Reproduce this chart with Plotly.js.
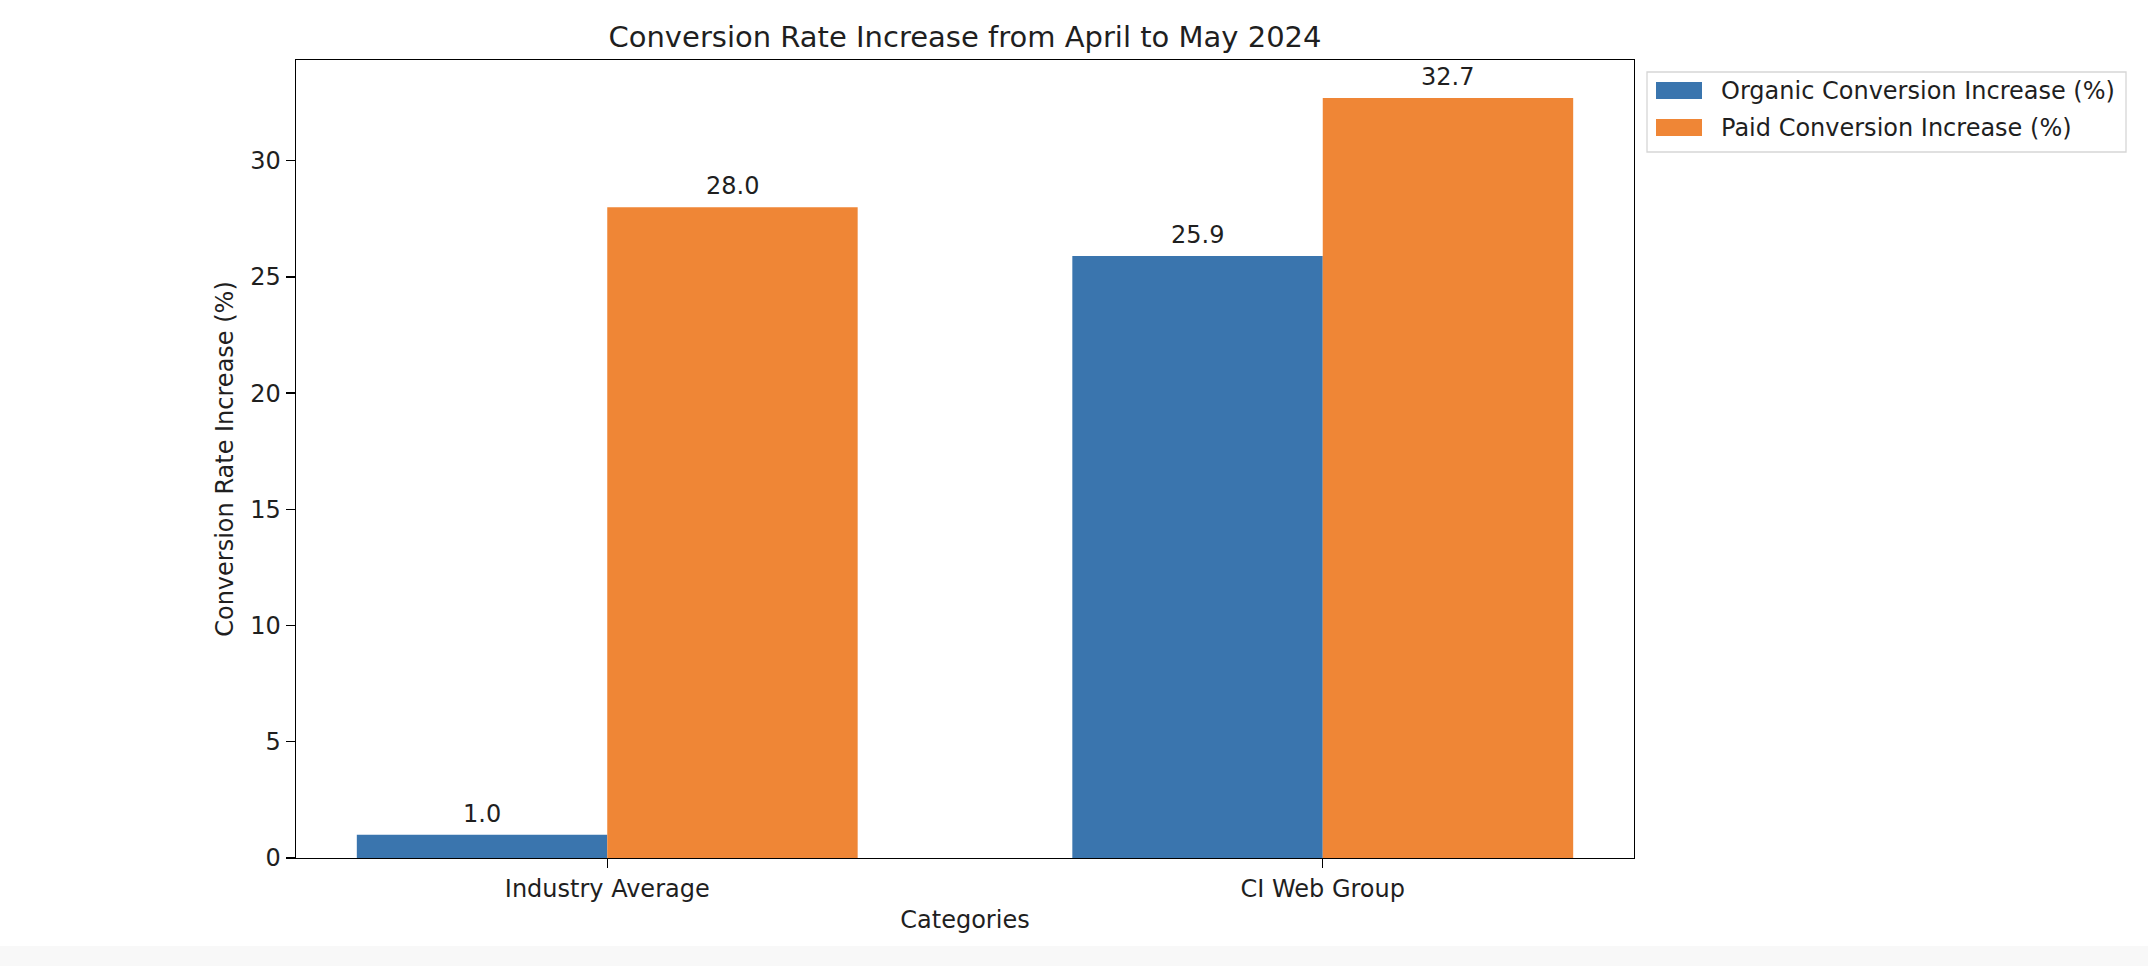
<!DOCTYPE html>
<html>
<head>
<meta charset="utf-8">
<script src="https://cdn.plot.ly/plotly-3.0.1.min.js"></script>
<style>html,body{margin:0;padding:0;background:#fff;}#chart{width:2148px;height:966px;}</style>
</head>
<body>
<div id="chart"></div>
<script>
const categories = ['Industry Average', 'CI Web Group'];
const organicValues = [1.0, 25.9];
const paidValues = [28.0, 32.7];
const seriesNames = ['Organic Conversion Increase (%)', 'Paid Conversion Increase (%)'];
const seriesColors = ['#3a75ae', '#ef8636'];
const yTickVals = [0, 5, 10, 15, 20, 25, 30];
const chartTitle = 'Conversion Rate Increase from April to May 2024';
const xTitle = 'Categories';
const yTitle = 'Conversion Rate Increase (%)';

const FONT = 'DejaVu Sans, sans-serif';
const TXT = '#1f1f1f';
const FS = 24;
const barW = 0.35;

const traces = [
  {type: 'bar', name: seriesNames[0], x: categories, y: organicValues, width: barW, offset: -barW,
   marker: {color: seriesColors[0], line: {width: 0}}, showlegend: false, hoverinfo: 'x+y'},
  {type: 'bar', name: seriesNames[1], x: categories, y: paidValues, width: barW, offset: 0,
   marker: {color: seriesColors[1], line: {width: 0}}, showlegend: false, hoverinfo: 'x+y'}
];

const annotations = [];
[organicValues, paidValues].forEach((vals, s) => {
  vals.forEach((v, i) => {
    annotations.push({
      x: i + (s === 0 ? -barW / 2 : barW / 2), y: v, xref: 'x', yref: 'y',
      text: v.toFixed(1), showarrow: false, yanchor: 'bottom', yshift: 5,
      font: {family: FONT, size: FS, color: TXT}
    });
  });
});

// custom legend (matplotlib-like)
const legX0 = 1647, legY0 = 72, legX1 = 2126, legY1 = 152;
const W = 2148, H = 966, L = 296, R = 1634, T = 60, B = 858;
const px = v => (v - L) / (R - L);
const py = v => (B - v) / (B - T);
const shapes = [
  {type: 'rect', xref: 'paper', yref: 'paper', x0: px(legX0), x1: px(legX1), y0: py(legY1), y1: py(legY0),
   line: {color: '#d6d6d6', width: 1.3}, fillcolor: 'rgba(255,255,255,0.8)'},
  {type: 'rect', xref: 'paper', yref: 'paper', x0: px(0), x1: px(W), y0: py(H), y1: py(946),
   line: {width: 0}, fillcolor: '#f8f8f8', layer: 'below'}
];
seriesNames.forEach((n, s) => {
  const cy = 90.5 + s * 37;
  shapes.push({type: 'rect', xref: 'paper', yref: 'paper', x0: px(1656), x1: px(1702),
    y0: py(cy + 8.5), y1: py(cy - 8.5), line: {width: 0}, fillcolor: seriesColors[s]});
  annotations.push({xref: 'paper', yref: 'paper', x: px(1719), y: py(cy), xanchor: 'left', yanchor: 'middle',
    text: n, showarrow: false, font: {family: FONT, size: FS, color: TXT}});
});

const layout = {
  width: W, height: H,
  margin: {l: L, r: W - R, t: T, b: H - B, pad: 0},
  paper_bgcolor: '#ffffff', plot_bgcolor: '#ffffff',
  font: {family: FONT, size: FS, color: TXT},
  title: {text: chartTitle, x: 0.5, xref: 'paper', y: 1 - 37 / H, yref: 'container', yanchor: 'middle',
          font: {family: FONT, size: 29, color: TXT}},
  barmode: 'overlay',
  showlegend: false,
  xaxis: {type: 'category', range: [-0.435, 1.435], showline: true, mirror: true, linecolor: '#000', linewidth: 1.4,
          ticks: 'outside', ticklen: 9, tickwidth: 1.4, tickcolor: '#000', showgrid: false, zeroline: false,
          tickfont: {family: FONT, size: FS, color: TXT}, fixedrange: true,
          title: {text: xTitle, font: {family: FONT, size: FS, color: TXT}, standoff: 9}},
  yaxis: {range: [0, 34.335], tickvals: yTickVals, showline: true, mirror: true, linecolor: '#000', linewidth: 1.4,
          ticks: 'outside', ticklen: 9, tickwidth: 1.4, tickcolor: '#000', showgrid: false, zeroline: false,
          tickfont: {family: FONT, size: FS, color: TXT},
          title: {text: yTitle, font: {family: FONT, size: FS, color: TXT}, standoff: 10}},
  annotations: annotations,
  shapes: shapes
};

Plotly.newPlot('chart', traces, layout, {displayModeBar: false, staticPlot: true});
</script>
</body>
</html>
